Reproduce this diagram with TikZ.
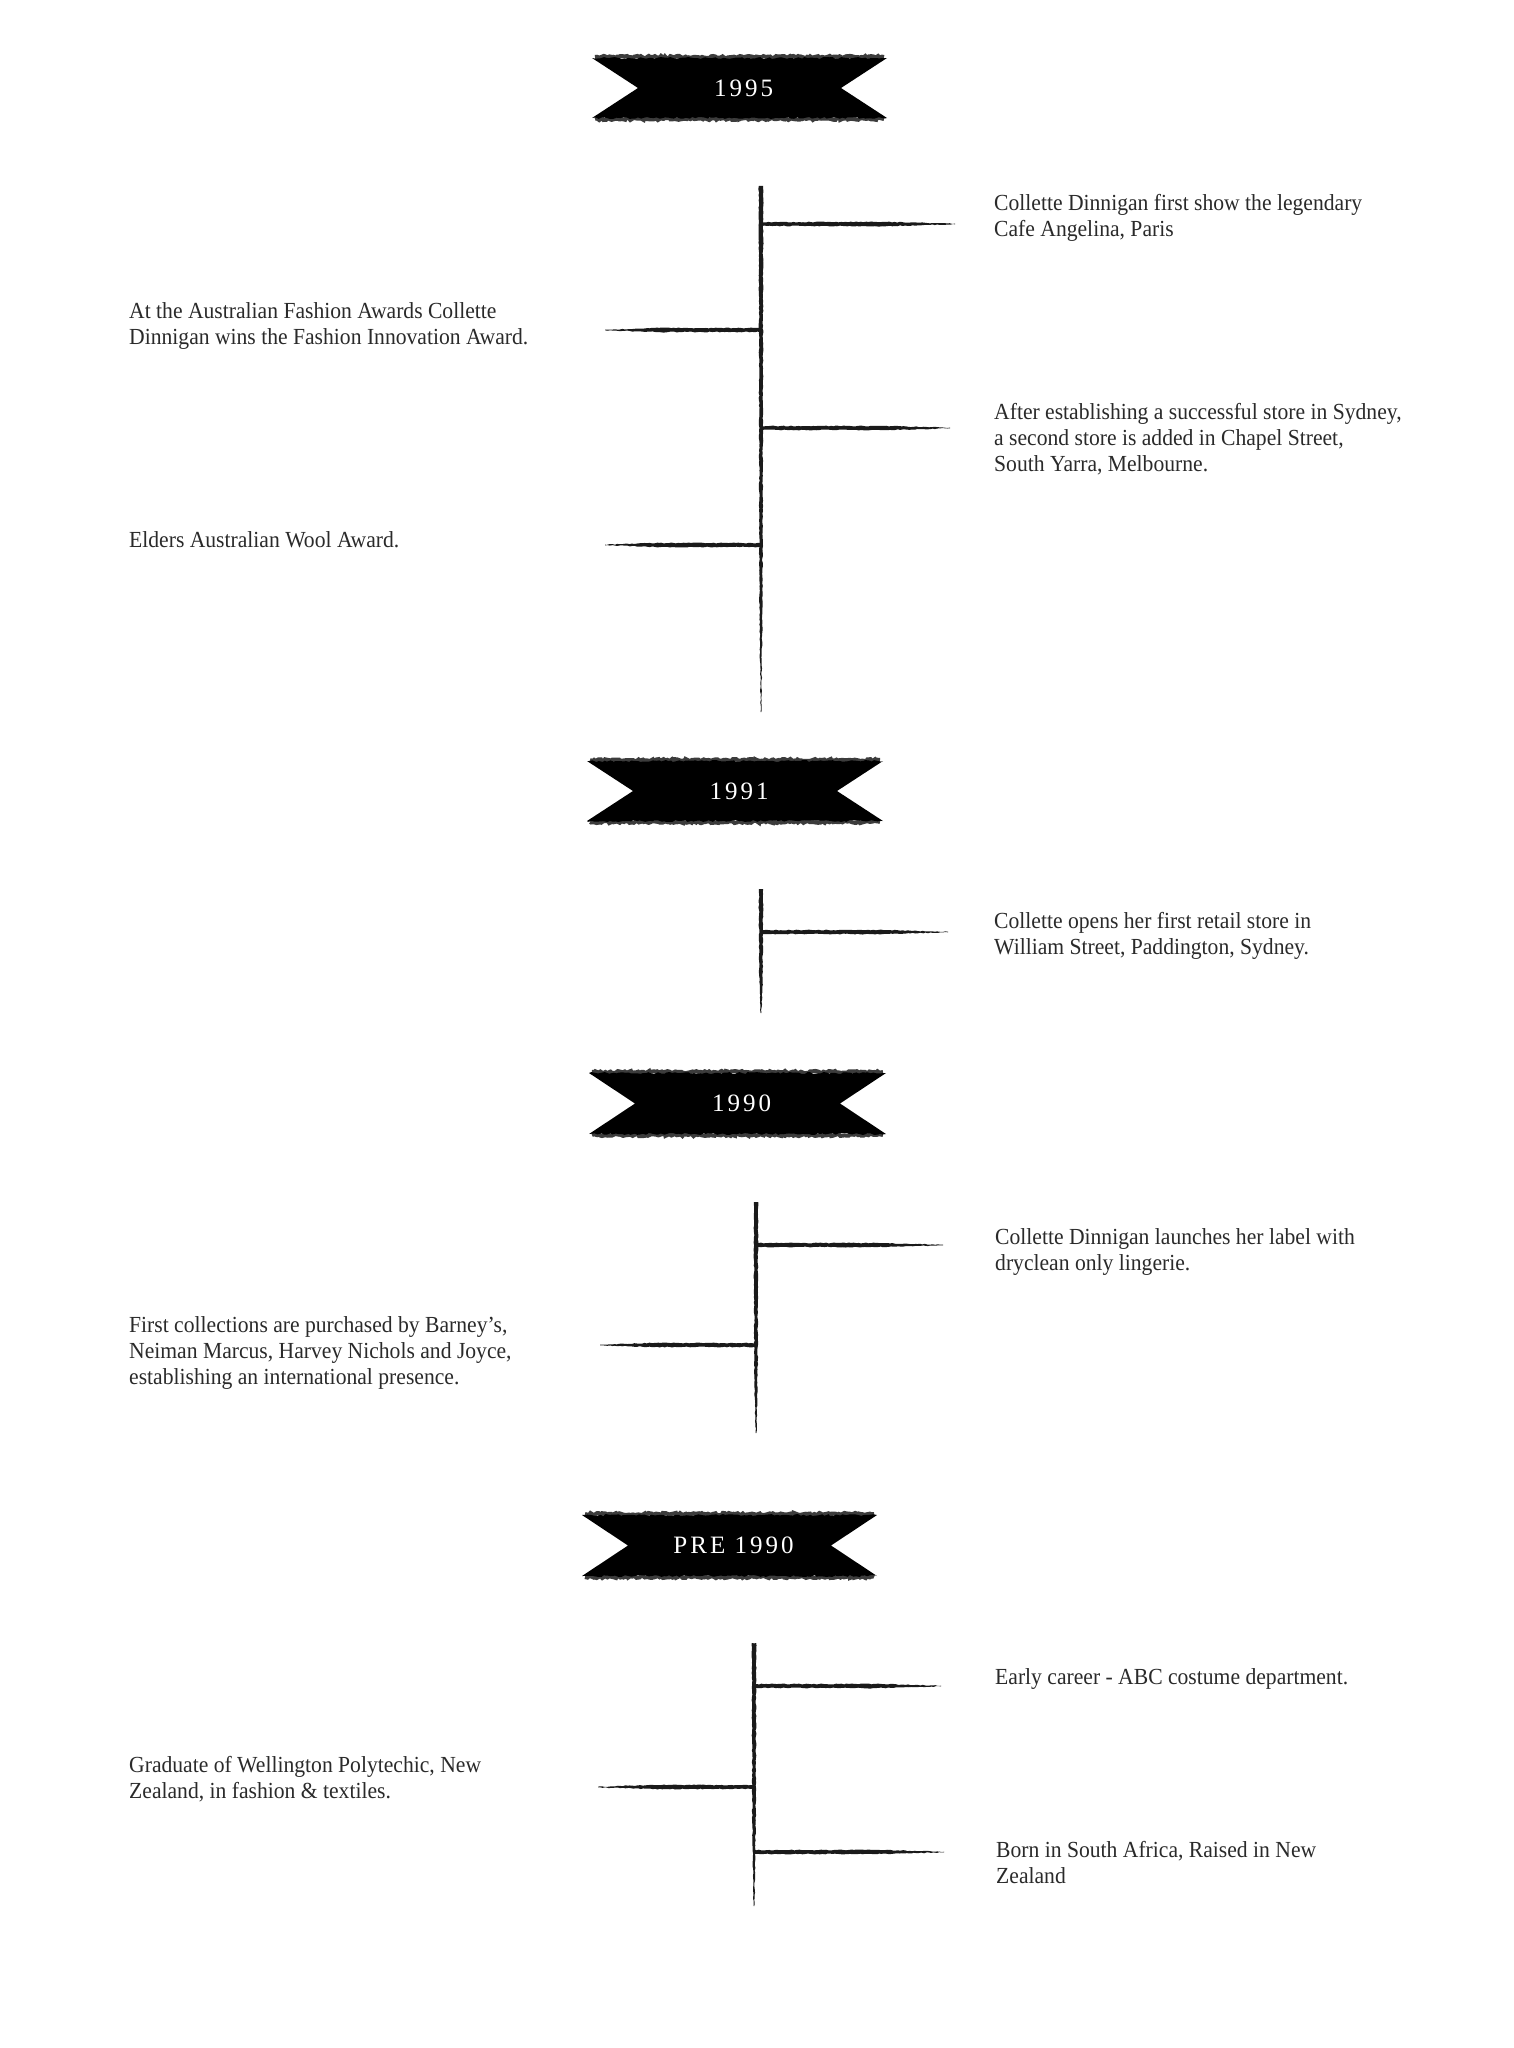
\documentclass[tikz,border=0pt]{standalone}
\usepackage{fontspec}
\setmainfont{Liberation Serif}[FakeStretch=0.94]
\newfontfamily\bannerfont{Liberation Serif}[LetterSpace=12]
\usetikzlibrary{calc,decorations.pathmorphing}
\definecolor{ink}{HTML}{1A1A1A}
\definecolor{txt}{HTML}{2A2A2A}
\definecolor{rag}{HTML}{3C3C3C}
\tikzset{
  rough/.style={decorate, decoration={random steps, segment length=2.5pt, amplitude=0.45pt}},
  itemtext/.style={anchor=base west, inner sep=0pt, text=txt, font=\fontsize{23}{26}\selectfont},
  bannertext/.style={anchor=base, inner sep=0pt, text=white, font=\bannerfont\fontsize{25}{26}\selectfont},
}
\newcommand{\stem}[2]{%
  \fill[ink, rough] ($(#1)+(-2.2,0)$) -- ($(#1)+(2.2,0)$) -- ($(#1)!0.75!(#2)+(1.6,0)$) -- ($(#2)+(0.4,0)$) -- ($(#2)+(-0.4,0)$) -- ($(#1)!0.75!(#2)+(-1.6,0)$) -- cycle;}
\newcommand{\twig}[2]{%
  \fill[ink, rough] ($(#1)+(0,-1.9)$) -- ($(#1)!0.65!(#2)+(0,-2.1)$) -- ($(#2)+(0,-0.3)$) -- ($(#2)+(0,0.3)$) -- ($(#1)!0.65!(#2)+(0,2.1)$) -- ($(#1)+(0,1.9)$) -- cycle;}
% #1 name, #2 left x, #3 right x, #4 top y, #5 bottom y, #6 text, #7 baseline
\newcommand{\ribbon}[7]{%
  \draw[rag, line width=4pt, decorate, decoration={random steps, segment length=2pt, amplitude=1.1pt}] (#2+3,#4+1) -- (#3-3,#4+1);
  \draw[rag, line width=4pt, decorate, decoration={random steps, segment length=2pt, amplitude=1.1pt}] (#2+3,#5-1) -- (#3-3,#5-1);
  \fill[black] (#2,#4+2) decorate[decoration={random steps, segment length=3pt, amplitude=1pt}]{-- (#3,#4+2)}
     -- (#3-46,{(#4+#5)/2}) -- (#3,#5-2)
     decorate[decoration={random steps, segment length=3pt, amplitude=1pt}]{-- (#2,#5-2)}
     -- (#2+46,{(#4+#5)/2}) -- cycle;
  \node[bannertext] (#1) at ({(#2+#3)/2+4},#7) {#6};}
\begin{document}
\begin{tikzpicture}[x=1pt,y=-1pt]
\pgfmathsetseed{7}
\fill[white] (0,0) rectangle (1514,2048);
\useasboundingbox (0,0) rectangle (1514,2048);

% ---------- 1995 ----------
\ribbon{y1995}{592}{887}{56}{120}{1995}{96}
\coordinate (s1t) at (761,186);
\coordinate (s1b) at (761,712);
\stem{s1t}{s1b}
\coordinate (j11) at (761,224);  \coordinate (e11) at (955,224);
\coordinate (j12) at (761,330);  \coordinate (e12) at (605,330);
\coordinate (j13) at (761,428);  \coordinate (e13) at (950,428);
\coordinate (j14) at (761,545);  \coordinate (e14) at (605,545);
\twig{j11}{e11}\twig{j12}{e12}\twig{j13}{e13}\twig{j14}{e14}
\node[itemtext] (t11) at (994,210) {\begin{tabular}[t]{@{}l@{}}Collette Dinnigan first show the legendary\\Cafe Angelina, Paris\end{tabular}};
\node[itemtext] (t12) at (129,318) {\begin{tabular}[t]{@{}l@{}}At the Australian Fashion Awards Collette\\Dinnigan wins the Fashion Innovation Award.\end{tabular}};
\node[itemtext] (t13) at (994,419) {\begin{tabular}[t]{@{}l@{}}After establishing a successful store in Sydney,\\a second store is added in Chapel Street,\\South Yarra, Melbourne.\end{tabular}};
\node[itemtext] (t14) at (129,547) {Elders Australian Wool Award.};

% ---------- 1991 ----------
\ribbon{y1991}{587}{883}{759}{823}{1991}{799}
\coordinate (s2t) at (761,889);
\coordinate (s2b) at (761,1013);
\stem{s2t}{s2b}
\coordinate (j21) at (761,932);  \coordinate (e21) at (948,932);
\twig{j21}{e21}
\node[itemtext] (t21) at (994,928) {\begin{tabular}[t]{@{}l@{}}Collette opens her first retail store in\\William Street, Paddington, Sydney.\end{tabular}};

% ---------- 1990 ----------
\ribbon{y1990}{589}{886}{1071}{1136}{1990}{1111}
\coordinate (s3t) at (756,1202);
\coordinate (s3b) at (756,1433);
\stem{s3t}{s3b}
\coordinate (j31) at (756,1245);  \coordinate (e31) at (943,1245);
\coordinate (j32) at (756,1345);  \coordinate (e32) at (600,1345);
\twig{j31}{e31}\twig{j32}{e32}
\node[itemtext] (t31) at (995,1244) {\begin{tabular}[t]{@{}l@{}}Collette Dinnigan launches her label with\\dryclean only lingerie.\end{tabular}};
\node[itemtext] (t32) at (129,1332) {\begin{tabular}[t]{@{}l@{}}First collections are purchased by Barney’s,\\Neiman Marcus, Harvey Nichols and Joyce,\\establishing an international presence.\end{tabular}};

% ---------- PRE 1990 ----------
\ribbon{ypre}{582}{877}{1513}{1578}{PRE 1990}{1553}
\coordinate (s4t) at (754,1643);
\coordinate (s4b) at (754,1906);
\stem{s4t}{s4b}
\coordinate (j41) at (754,1686);  \coordinate (e41) at (941,1686);
\coordinate (j42) at (754,1787);  \coordinate (e42) at (598,1787);
\coordinate (j43) at (754,1852);  \coordinate (e43) at (944,1852);
\twig{j41}{e41}\twig{j42}{e42}\twig{j43}{e43}
\node[itemtext] (t41) at (995,1684) {Early career - ABC costume department.};
\node[itemtext] (t42) at (129,1772) {\begin{tabular}[t]{@{}l@{}}Graduate of Wellington Polytechic, New\\Zealand, in fashion \& textiles.\end{tabular}};
\node[itemtext] (t43) at (996,1857) {\begin{tabular}[t]{@{}l@{}}Born in South Africa, Raised in New\\Zealand\end{tabular}};
\end{tikzpicture}
\end{document}
